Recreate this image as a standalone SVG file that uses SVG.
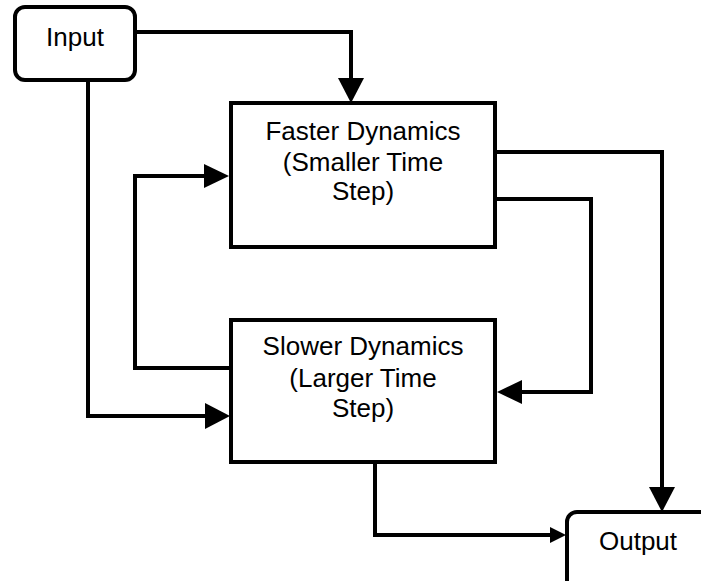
<svg xmlns="http://www.w3.org/2000/svg" width="701" height="581" viewBox="0 0 701 581">
<defs>
<style>
.box{fill:#fff;stroke:#000;stroke-width:4}
.ln{fill:none;stroke:#000;stroke-width:4;stroke-linejoin:miter}
.t{font-family:"Liberation Sans",Arial,sans-serif;font-size:26px;fill:#000;text-anchor:middle}
.ah{fill:#000}
</style>
</defs>
<rect width="701" height="581" fill="#fff"/>
<g id="connectors">
<polyline class="ln" points="135,32 351,32 351,80"/>
<polygon class="ah" points="338,78 364,78 351,103"/>
<polyline class="ln" points="495,152 662,152 662,490"/>
<polygon class="ah" points="649,487 675,487 662,512"/>
<polyline class="ln" points="495,199 591,199 591,392 520,392"/>
<polygon class="ah" points="522,380 522,404 497,392"/>
<polyline class="ln" points="231,368 135,368 135,176 205,176"/>
<polygon class="ah" points="204,164 204,188 229,176"/>
<polyline class="ln" points="88,80 88,416 207,416"/>
<polygon class="ah" points="205,403 205,429 230,416"/>
<polyline class="ln" points="375,462 375,535 552,535"/>
<polygon class="ah" points="550,527 550,543 566,535"/>
</g>
<g id="input">
<rect class="box" x="15" y="7" width="120" height="73" rx="10"/>
<text class="t" x="75" y="46">Input</text>
</g>
<g id="faster">
<rect class="box" x="231" y="103" width="264" height="144"/>
<text class="t" x="363" y="140">Faster Dynamics</text>
<text class="t" x="363" y="171">(Smaller Time</text>
<text class="t" x="363" y="200">Step)</text>
</g>
<g id="slower">
<rect class="box" x="231" y="320" width="264" height="142"/>
<text class="t" x="363" y="355">Slower Dynamics</text>
<text class="t" x="363" y="387">(Larger Time</text>
<text class="t" x="363" y="417">Step)</text>
</g>
<g id="output">
<rect class="box" x="567" y="512" width="160" height="90" rx="10"/>
<text class="t" x="638" y="550">Output</text>
</g>
</svg>
